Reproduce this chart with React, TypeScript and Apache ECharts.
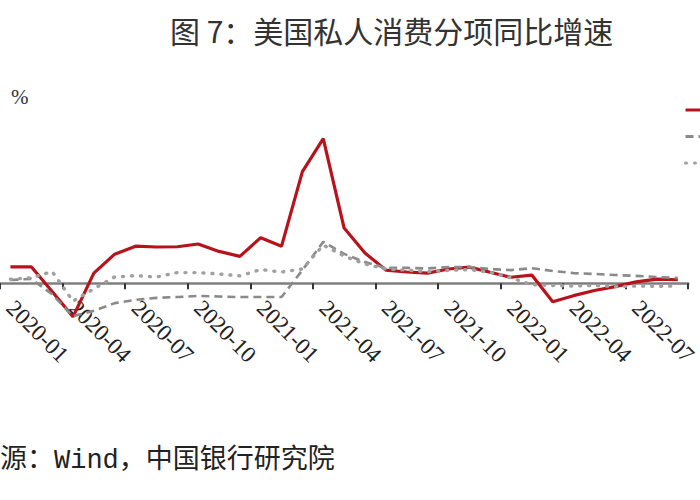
import React, { useEffect, useRef } from 'react';
import * as echarts from 'echarts';

// monthly, 2020-01 .. 2022-09
const months = [
    '2020-01', '2020-02', '2020-03', '2020-04', '2020-05', '2020-06',
    '2020-07', '2020-08', '2020-09', '2020-10', '2020-11', '2020-12',
    '2021-01', '2021-02', '2021-03', '2021-04', '2021-05', '2021-06',
    '2021-07', '2021-08', '2021-09', '2021-10', '2021-11', '2021-12',
    '2022-01', '2022-02', '2022-03', '2022-04', '2022-05', '2022-06',
    '2022-07', '2022-08', '2022-09',
];

const seriesNames = ['耐用品', '服务', '非耐用品'];

// YoY, %
const durable = [
    6.0, 6.0, -3.0, -12.2, 3.7, 10.6, 13.5, 13.2, 13.3, 14.3, 11.6, 9.8,
    16.6, 13.5, 40.6, 52.6, 20.1, 11.0, 4.8, 4.1, 3.7, 5.2, 5.9, 4.0,
    2.2, 3.0, -6.7, -4.5, -2.6, -1.2, 0.5, 1.5, 1.3,
];
const services = [
    1.2, 1.6, -4.0, -12.0, -10.0, -7.2, -6.0, -5.3, -5.0, -4.6, -4.8, -5.0,
    -5.0, -5.0, 4.8, 15.1, 10.7, 7.7, 5.6, 5.6, 5.4, 5.9, 5.9, 5.2,
    4.8, 5.5, 4.5, 3.7, 3.4, 3.0, 2.7, 2.3, 1.9,
];
const nondurable = [
    1.5, 2.0, 4.3, -6.5, -2.0, 2.3, 2.8, 2.3, 3.9, 3.9, 3.4, 2.7,
    5.0, 4.1, 5.2, 13.9, 9.9, 7.0, 5.2, 4.8, 4.2, 4.7, 5.0, 4.0,
    2.0, -0.5, -0.8, -1.0, -0.8, -1.2, -1.0, -1.1, -1.0,
];

const cjk = "'Noto Sans CJK SC', sans-serif";

const App: React.FC = () => {
    const chartRef = useRef<HTMLDivElement | null>(null);

    useEffect(() => {
        if (!chartRef.current) return;
        const chart = echarts.init(chartRef.current, undefined, { renderer: 'svg' });

        chart.setOption({
            animation: false,
            title: {
                text: '图 7：美国私人消费分项同比增速',
                left: 165,
                top: 10,
                textStyle: { fontSize: 30, fontWeight: 'normal', color: '#333', fontFamily: cjk },
            },
            // legend labels are outside the visible crop in the reference, only the keys show
            legend: {
                orient: 'vertical',
                left: 679,
                top: 97,
                itemWidth: 40,
                itemHeight: 20,
                itemGap: 10.5,
                selectedMode: false,
                formatter: () => '',
                itemStyle: { opacity: 0 },
                lineStyle: { width: 3 },
                textStyle: { fontSize: 20, lineHeight: 20, color: '#333', fontFamily: cjk },
                data: seriesNames,
            },
            grid: { left: -3, top: 118.3, width: 716, height: 220 },
            xAxis: {
                type: 'category',
                data: months,
                boundaryGap: true,
                offset: -55,
                axisLine: { onZero: false, lineStyle: { color: '#7f7f7f', width: 2.5 } },
                axisTick: { show: true, interval: 2, length: 6, lineStyle: { color: '#333', width: 2 } },
                axisLabel: {
                    interval: 2,
                    rotate: -45,
                    margin: 21,
                    fontSize: 23,
                    fontFamily: "'Liberation Serif', serif",
                    color: '#222',
                },
            },
            yAxis: {
                type: 'value',
                min: -20,
                max: 60,
                interval: 10,
                axisLabel: { show: false },
                axisLine: { show: false },
                axisTick: { show: false },
                splitLine: { show: false },
            },
            graphic: [
                {
                    type: 'text',
                    x: 11,
                    y: 97,
                    style: {
                        text: '%',
                        fontSize: 21,
                        fontFamily: "'Liberation Serif', serif",
                        fill: '#333',
                        verticalAlign: 'middle',
                    },
                },
                {
                    type: 'text',
                    x: 0,
                    y: 461,
                    style: {
                        text: '源：Wind，中国银行研究院',
                        fontSize: 27,
                        fontFamily: "'Liberation Mono', 'Noto Sans CJK SC', monospace",
                        fill: '#222',
                        verticalAlign: 'middle',
                    },
                },
            ],
            series: [
                {
                    name: seriesNames[0],
                    type: 'line',
                    data: durable,
                    symbol: 'none',
                    color: '#b8121b',
                    lineStyle: { color: '#b8121b', width: 3.2 },
                },
                {
                    name: seriesNames[1],
                    type: 'line',
                    data: services,
                    symbol: 'none',
                    color: '#8a8a8a',
                    lineStyle: { color: '#8a8a8a', width: 2.6, type: [8, 5] },
                },
                {
                    name: seriesNames[2],
                    type: 'line',
                    data: nondurable,
                    symbol: 'none',
                    color: '#a0a0a0',
                    lineStyle: { color: '#a0a0a0', width: 3.4, type: [1, 8], cap: 'round' },
                },
            ],
        });

        return () => {
            chart.dispose();
        };
    }, []);

    return (
        <div ref={chartRef} style={{ position: 'absolute', left: 0, top: 0, width: '700px', height: '500px' }} />
    );
};

export default App;
